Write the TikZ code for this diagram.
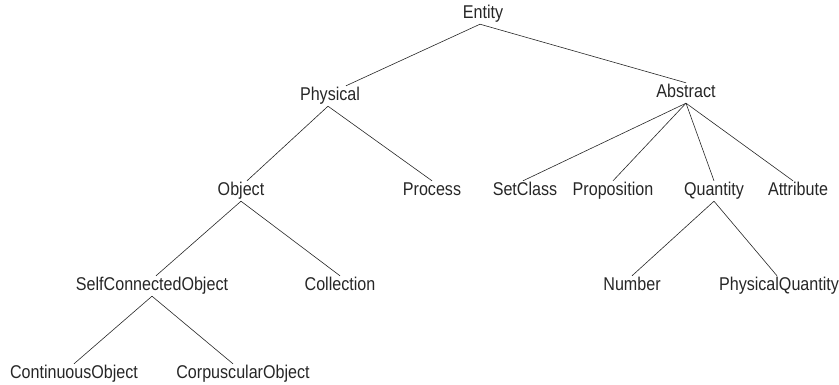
\documentclass[tikz,border=0pt]{standalone}
\usepackage{fontspec}
\setmainfont[FakeStretch=0.87]{Liberation Sans}
\begin{document}
\begin{tikzpicture}[x=1pt,y=-1pt,
  tnode/.style={font=\fontsize{18.5}{20}\selectfont, text=black!85, inner sep=1.5pt, text height=13pt, text depth=4pt, anchor=base},
  edge/.style={line width=0.6pt, black!85}]
\useasboundingbox (0,0) rectangle (839,385);
% level 0
\node[tnode] (entity) at (483,18.5) {Entity};
% level 1
\node[tnode] (physical) at (330,100.5) {Physical};
\node[tnode] (abstract) at (686,97.5) {Abstract};
% level 2
\node[tnode] (object) at (241,195.5) {Object};
\node[tnode] (process) at (432,195.5) {Process};
\node[tnode] (setclass) at (525,195.5) {SetClass};
\node[tnode] (proposition) at (613,195.5) {Proposition};
\node[tnode] (quantity) at (714,195.5) {Quantity};
\node[tnode] (attribute) at (798,195.5) {Attribute};
% level 3
\node[tnode] (sco) at (152,290.5) {SelfConnectedObject};
\node[tnode] (collection) at (340,290.5) {Collection};
\node[tnode] (number) at (632,290.5) {Number};
\node[tnode] (physq) at (779,290.5) {PhysicalQuantity};
% level 4
\node[tnode] (contobj) at (74,378.5) {ContinuousObject};
\node[tnode] (corpobj) at (243,378.5) {CorpuscularObject};
% edges
\draw[edge] ([xshift=-3pt]entity.south) -- ([xshift=16pt]physical.north);
\draw[edge] ([xshift=-3pt]entity.south) -- (abstract.north);
\draw[edge] ([xshift=-2pt]physical.south) -- ([xshift=6pt]object.north);
\draw[edge] ([xshift=-2pt]physical.south) -- (process.north);
\draw[edge] (abstract.south) -- ([xshift=-2pt]setclass.north);
\draw[edge] (abstract.south) -- (proposition.north);
\draw[edge] (abstract.south) -- (quantity.north);
\draw[edge] (abstract.south) -- ([xshift=-5pt]attribute.north);
\draw[edge] (object.south) -- ([xshift=4pt]sco.north);
\draw[edge] (object.south) -- (collection.north);
\draw[edge] (sco.south) -- (contobj.north);
\draw[edge] (sco.south) -- ([xshift=-10pt]corpobj.north);
\draw[edge] (quantity.south) -- (number.north);
\draw[edge] (quantity.south) -- ([xshift=-2pt]physq.north);
\end{tikzpicture}
\end{document}
